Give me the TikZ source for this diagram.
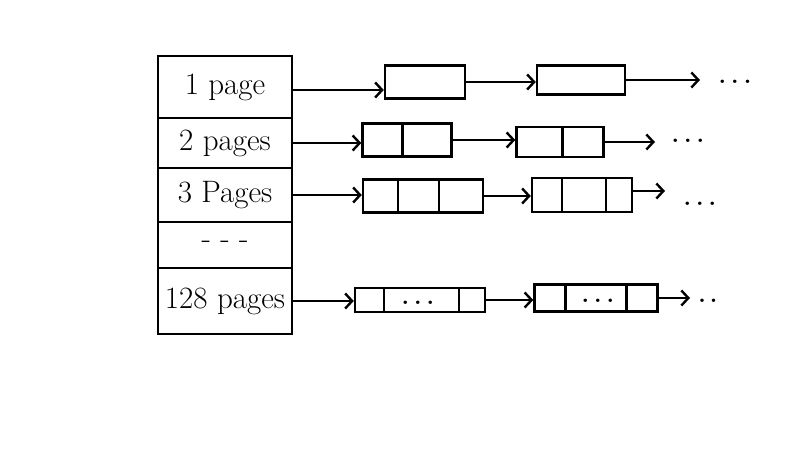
\documentclass[tikz,border=0pt]{standalone}
\usetikzlibrary{arrows.meta}
\newcommand{\sdots}{.\hspace{5pt}.\hspace{5pt}.}
\begin{document}
\begin{tikzpicture}[x=1pt,y=-1pt,line width=2.4pt,
  cell/.style={draw,rectangle,inner sep=0pt,minimum width=134pt,font=\fontsize{31}{36}\selectfont},
  blk/.style={draw,rectangle,inner sep=0pt},
  arr/.style={-{Straight Barb[length=7pt,width=15pt]}},
  dots/.style={font=\fontsize{24}{28}\selectfont\bfseries,anchor=base}]
\fill[white] (0,0) rectangle (800,449);
\useasboundingbox (0,0) rectangle (800,449);
% left table
\node[cell,minimum height=62pt] (r1) at (225,87) {1 page};
\node[cell,minimum height=50pt] (r2) at (225,143) {2 pages};
\node[cell,minimum height=54pt] (r3) at (225,195) {3 Pages};
\node[cell,minimum height=46pt] (r4) at (225,245) {- - -};
\node[cell,minimum height=66pt] (r5) at (225,301) {128 pages};
% row 1
\node[blk,minimum width=80pt,minimum height=33pt] (a1) at (425,82) {};
\node[blk,minimum width=88pt,minimum height=29pt] (b1) at (581,80) {};
\coordinate (e1) at (700,79);
\node[dots] (d1) at (735,84) {\sdots};
\draw[arr] ([yshift=-3pt]r1.east) -- ([yshift=-3pt]r1.east -| a1.west);
\draw[arr] (a1.east) -- (a1.east -| b1.west);
\draw[arr] (b1.east) -- (b1.east -| e1);
% row 2
\node[blk,minimum width=89pt,minimum height=33pt] (a2) at (407,140) {};
\node[blk,minimum width=87pt,minimum height=30pt] (b2) at (560,142) {};
\draw ([xshift=41pt]a2.north west) -- ([xshift=41pt]a2.south west);
\draw ([xshift=47pt]b2.north west) -- ([xshift=47pt]b2.south west);
\coordinate (e2) at (655,142);
\node[dots] (d2) at (688,143) {\sdots};
\draw[arr] (r2.east) -- (r2.east -| a2.west);
\draw[arr] (a2.east) -- (a2.east -| b2.west);
\draw[arr] (b2.east) -- (b2.east -| e2);
% row 3
\node[blk,minimum width=120pt,minimum height=33pt] (a3) at (423,196) {};
\node[blk,minimum width=100pt,minimum height=34pt] (b3) at (582,195) {};
\draw ([xshift=36pt]a3.north west) -- ([xshift=36pt]a3.south west);
\draw ([xshift=77pt]a3.north west) -- ([xshift=77pt]a3.south west);
\draw ([xshift=31pt]b3.north west) -- ([xshift=31pt]b3.south west);
\draw ([xshift=75pt]b3.north west) -- ([xshift=75pt]b3.south west);
\coordinate (e3) at (665,199);
\node[dots] (d3) at (700,206) {\sdots};
\draw[arr] (r3.east) -- (r3.east -| a3.west);
\draw[arr] (a3.east) -- (a3.east -| b3.west);
\draw[arr] ([yshift=4pt]b3.east) -- ([yshift=4pt]b3.east -| e3);
% row 4
\node[blk,minimum width=130pt,minimum height=24pt] (a4) at (420,300) {};
\node[blk,minimum width=123pt,minimum height=27pt] (b4) at (596,298) {};
\draw ([xshift=30pt]a4.north west) -- ([xshift=30pt]a4.south west);
\draw ([xshift=105pt]a4.north west) -- ([xshift=105pt]a4.south west);
\draw ([xshift=32pt]b4.north west) -- ([xshift=32pt]b4.south west);
\draw ([xshift=93pt]b4.north west) -- ([xshift=93pt]b4.south west);
\node[dots] (t4) at (418,304) {\sdots};
\node[dots] (u4) at (598,302) {\sdots};
\coordinate (e4) at (690,297);
\node[dots] (d4) at (708,302) {.\hspace{4pt}.};
\draw[arr] (r5.east) -- (r5.east -| a4.west);
\draw[arr] (a4.east) -- (a4.east -| b4.west);
\draw[arr] (b4.east) -- (b4.east -| e4);
\end{tikzpicture}
\end{document}
